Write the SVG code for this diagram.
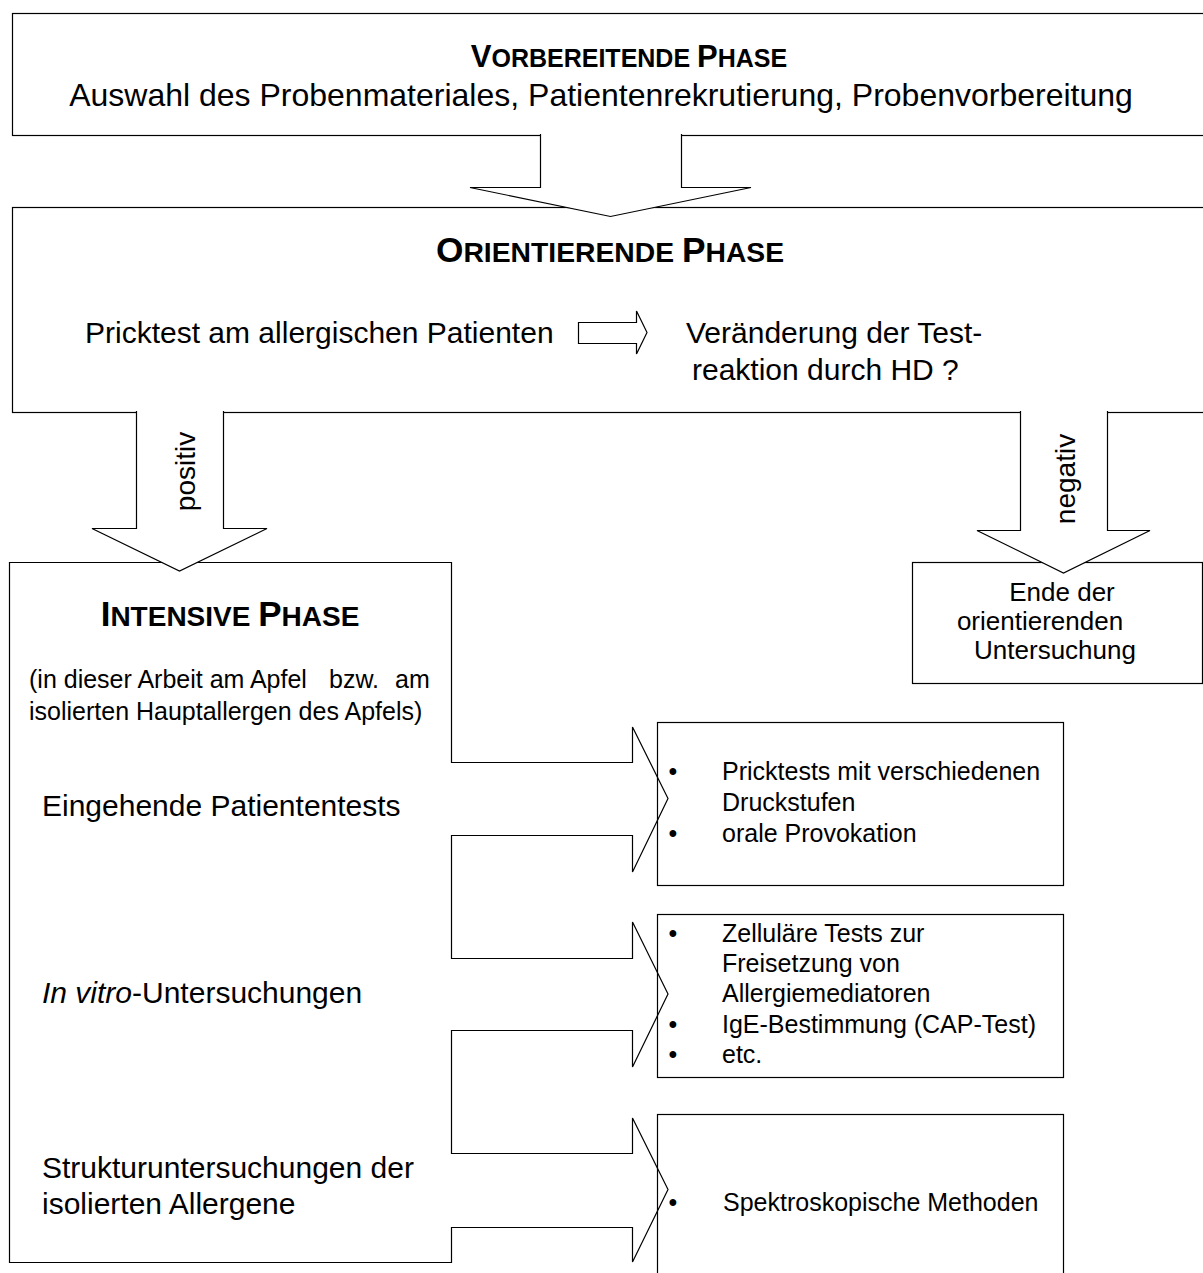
<svg xmlns="http://www.w3.org/2000/svg" width="1203" height="1273" viewBox="0 0 1203 1273">
<style>
.box{fill:none;stroke:#000;stroke-width:1.2}
.arr{fill:#fff;stroke:#000;stroke-width:1.2}
text{font-family:"Liberation Sans",Arial,sans-serif;fill:#000}
.t{font-weight:bold}
.b30{font-size:30px}
.b25{font-size:25px}
.b26{font-size:26px}
.lbl{font-size:28px}
</style>
<rect width="1203" height="1273" fill="#fff"/>
<g id="vorbereitende">
<rect class="box" x="12.5" y="13.5" width="1200" height="122"/>
<text class="t" x="629" y="67" text-anchor="middle" font-size="25"><tspan font-size="31">V</tspan>ORBEREITENDE <tspan font-size="31">P</tspan>HASE</text>
<text x="601" y="106" text-anchor="middle" font-size="32">Auswahl des Probenmateriales, Patientenrekrutierung, Probenvorbereitung</text>
</g>
<g id="orientierende">
<rect class="box" x="12.5" y="207.5" width="1200" height="205"/>
<text class="t" x="610" y="262" text-anchor="middle" font-size="28.3"><tspan font-size="35.3">O</tspan>RIENTIERENDE <tspan font-size="35.3">P</tspan>HASE</text>
<text class="b30" x="85" y="343">Pricktest am allergischen Patienten</text>
<path class="arr" d="M578.5,322.5 H636.5 V311 L647,332.5 L636.5,354 V343.5 H578.5 Z"/>
<text class="b30" x="686" y="343">Veränderung der Test-</text>
<text class="b30" x="692" y="380">reaktion durch HD ?</text>
</g>
<g id="ende">
<rect class="box" x="912.5" y="562.5" width="290" height="121"/>
<text class="b26" x="1062" y="601" text-anchor="middle">Ende der</text>
<text class="b26" x="1040" y="630" text-anchor="middle">orientierenden</text>
<text class="b26" x="1055" y="659" text-anchor="middle">Untersuchung</text>
</g>
<g id="intensive">
<path class="box" d="M9.5,562.5 H451.5 V762.5 H632.5 V727 L668,798.5 L632.5,872 V835.5 H451.5 V958.5 H632.5 V922 L668,994 L632.5,1067 V1030.5 H451.5 V1153.5 H632.5 V1118 L668,1189.5 L632.5,1262 V1227.5 H451.5 V1262.5 H9.5 Z"/>
<text class="t" x="230" y="626" text-anchor="middle" font-size="28"><tspan font-size="35">I</tspan>NTENSIVE <tspan font-size="35">P</tspan>HASE</text>
<text class="b25" y="688"><tspan x="29">(in dieser Arbeit am Apfel</tspan><tspan x="329">bzw.</tspan><tspan x="395">am</tspan></text>
<text class="b25" x="29" y="720">isolierten Hauptallergen des Apfels)</text>
<text class="b30" x="42" y="816">Eingehende Patiententests</text>
<text class="b30" x="42" y="1003"><tspan font-style="italic">In vitro</tspan>-Untersuchungen</text>
<text class="b30" x="42" y="1178">Strukturuntersuchungen der</text>
<text class="b30" x="42" y="1214">isolierten Allergene</text>
</g>
<g id="patiententests">
<rect class="box" x="657.5" y="722.5" width="406" height="163"/>
<text class="b25" x="673" y="780" text-anchor="middle">•</text>
<text class="b25" x="722" y="780">Pricktests mit verschiedenen</text>
<text class="b25" x="722" y="811">Druckstufen</text>
<text class="b25" x="673" y="842" text-anchor="middle">•</text>
<text class="b25" x="722" y="842">orale Provokation</text>
</g>
<g id="invitro">
<rect class="box" x="657.5" y="914.5" width="406" height="163"/>
<text class="b25" x="673" y="942" text-anchor="middle">•</text>
<text class="b25" x="722" y="942">Zelluläre Tests zur</text>
<text class="b25" x="722" y="972">Freisetzung von</text>
<text class="b25" x="722" y="1002">Allergiemediatoren</text>
<text class="b25" x="673" y="1033" text-anchor="middle">•</text>
<text class="b25" x="722" y="1033">IgE-Bestimmung (CAP-Test)</text>
<text class="b25" x="673" y="1063" text-anchor="middle">•</text>
<text class="b25" x="722" y="1063">etc.</text>
</g>
<g id="struktur">
<rect class="box" x="657.5" y="1114.5" width="406" height="200"/>
<text class="b25" x="673" y="1211" text-anchor="middle">•</text>
<text class="b25" x="723" y="1211">Spektroskopische Methoden</text>
</g>
<g id="connectors">
<path class="arr" d="M540.5,134 V187.5 H470 L610.5,216.5 L751,187.5 H681.5 V134"/>
<path class="arr" d="M136.5,411 V528.5 H92 L179.5,571 L267,528.5 H223.5 V411"/>
<path class="arr" d="M1020.5,411 V530.5 H977 L1063.5,573 L1150,530.5 H1107.5 V411"/>
<text class="lbl" transform="translate(195,471.5) rotate(-90)" text-anchor="middle">positiv</text>
<text class="lbl" transform="translate(1075,479) rotate(-90)" text-anchor="middle">negativ</text>
</g>
</svg>
